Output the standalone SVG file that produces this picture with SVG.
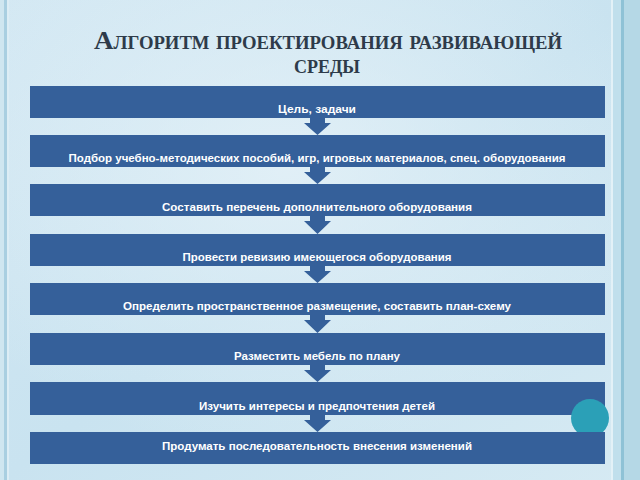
<svg xmlns="http://www.w3.org/2000/svg" width="640" height="480" viewBox="0 0 640 480">
<defs>
<linearGradient id="bg" x1="0" y1="0" x2="1" y2="1">
<stop offset="0" stop-color="#d3e8f3"/>
<stop offset="0.5" stop-color="#c9e3f0"/>
<stop offset="1" stop-color="#d6eaf3"/>
</linearGradient>
<radialGradient id="hl" cx="0.45" cy="0.35" r="0.6">
<stop offset="0" stop-color="#e6f2f8" stop-opacity="0.8"/>
<stop offset="1" stop-color="#e6f2f8" stop-opacity="0"/>
</radialGradient>
<style>
.bar{fill:#35609a}
.lbl{font-family:"Liberation Sans",Arial,sans-serif;font-weight:bold;font-size:11px;fill:#ffffff;text-anchor:middle}
.ttl{font-family:"Liberation Serif","Times New Roman",serif;font-size:26px;font-weight:bold;fill:#2e3b4a;text-anchor:middle;font-variant:small-caps}
.ttl2{font-family:"Liberation Serif","Times New Roman",serif;font-size:18px;font-weight:bold;fill:#2e3b4a;text-anchor:middle;text-transform:uppercase}
.arr{fill:#35609a}
</style>
</defs>
<rect width="640" height="480" fill="url(#bg)"/>
<rect width="640" height="480" fill="url(#hl)"/>
<rect x="0" y="0" width="4" height="480" fill="#cfe6f0"/>
<rect x="4" y="0" width="3" height="480" fill="#a9cfe1"/>
<rect x="7" y="0" width="2" height="480" fill="#dcedf5"/>
<rect x="611" y="0" width="2" height="480" fill="#e3f1f7"/>
<rect x="613" y="0" width="8" height="480" fill="#c0dfec"/>
<rect x="621" y="0" width="3" height="480" fill="#8fc2d6"/>
<rect x="624" y="0" width="16" height="480" fill="#b5d8e6"/>
<g id="title">
<text class="ttl" x="328" y="49" textLength="468" lengthAdjust="spacingAndGlyphs">Алгоритм проектирования развивающей</text>
<text class="ttl2" x="327" y="73">среды</text>
</g>
<g id="n1"><rect class="bar" x="30" y="86" width="575" height="32"/><text class="lbl" x="317" y="113" textLength="78" lengthAdjust="spacingAndGlyphs">Цель, задачи</text></g>
<g id="n2"><rect class="bar" x="30" y="135" width="575" height="32"/><text class="lbl" x="317" y="162" textLength="497" lengthAdjust="spacingAndGlyphs">Подбор учебно-методических пособий, игр, игровых материалов, спец. оборудования</text></g>
<g id="n3"><rect class="bar" x="30" y="184" width="575" height="32"/><text class="lbl" x="317" y="211" textLength="310" lengthAdjust="spacingAndGlyphs">Составить перечень дополнительного оборудования</text></g>
<g id="n4"><rect class="bar" x="30" y="234" width="575" height="32"/><text class="lbl" x="317" y="261" textLength="269" lengthAdjust="spacingAndGlyphs">Провести ревизию имеющегося оборудования</text></g>
<g id="n5"><rect class="bar" x="30" y="283" width="575" height="32"/><text class="lbl" x="317" y="310" textLength="388" lengthAdjust="spacingAndGlyphs">Определить пространственное размещение, составить план-схему</text></g>
<g id="n6"><rect class="bar" x="30" y="333" width="575" height="32"/><text class="lbl" x="317" y="360" textLength="166" lengthAdjust="spacingAndGlyphs">Разместить мебель по плану</text></g>
<g id="n7"><rect class="bar" x="30" y="382" width="575" height="33"/><text class="lbl" x="317" y="410" textLength="236" lengthAdjust="spacingAndGlyphs">Изучить интересы и предпочтения детей</text></g>
<circle cx="590" cy="418" r="19" fill="#2ba0b7"/>
<g id="n8"><rect class="bar" x="30" y="432" width="575" height="32"/><text class="lbl" x="317" y="450" textLength="310" lengthAdjust="spacingAndGlyphs">Продумать последовательность внесения изменений</text></g>
<g id="connectors">
<path class="arr" d="M310,116 H325 V123 H331 L317.5,135 L304,123 H310 Z"/>
<path class="arr" d="M310,165 H325 V172 H331 L317.5,184 L304,172 H310 Z"/>
<path class="arr" d="M310,214 H325 V221 H331 L317.5,234 L304,221 H310 Z"/>
<path class="arr" d="M310,264 H325 V271 H331 L317.5,283 L304,271 H310 Z"/>
<path class="arr" d="M310,313 H325 V320 H331 L317.5,333 L304,320 H310 Z"/>
<path class="arr" d="M310,363 H325 V370 H331 L317.5,382 L304,370 H310 Z"/>
<path class="arr" d="M310,413 H325 V420 H331 L317.5,432 L304,420 H310 Z"/>
</g>
</svg>
